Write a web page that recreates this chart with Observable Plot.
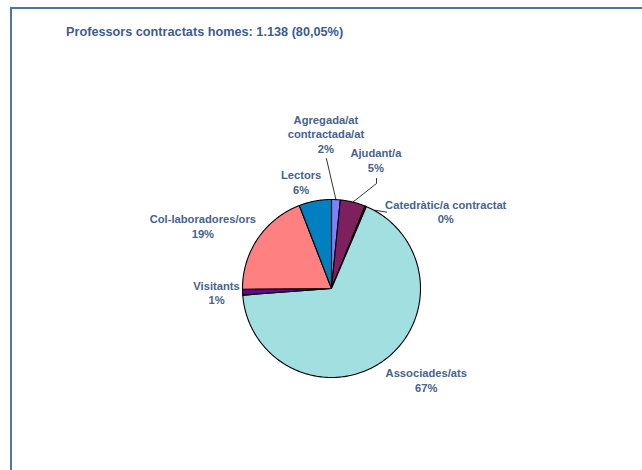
<!DOCTYPE html>
<html><head><meta charset="utf-8">
<script src="https://cdn.jsdelivr.net/npm/d3@7"></script>
<script src="https://cdn.jsdelivr.net/npm/@observablehq/plot@0.6"></script>
<style>
html,body{margin:0;padding:0;background:#fff;}
#wrap{position:relative;width:642px;height:470px;overflow:hidden;font-family:"Liberation Sans",Arial,sans-serif;}
#frame{position:absolute;left:10px;top:7px;width:700px;height:500px;border-left:2px solid #4F73A6;border-top:2px solid #4F73A6;}
#title{position:absolute;left:66px;top:25px;font-weight:bold;font-size:12.7px;color:#3D5D8D;white-space:nowrap;}
#chart{position:absolute;left:0;top:0;}
</style></head><body>
<div id="wrap"><div id="frame"></div><div id="title"></div><div id="chart"></div></div>
<script>
// ---- data ----
const titleText = "Professors contractats homes: 1.138 (80,05%)";
const categories = ["Agregada/at\ncontractada/at", "Ajudant/a", "Catedràtic/a contractat", "Associades/ats", "Visitants", "Col-laboradores/ors", "Lectors"];
const counts = [18, 52, 3, 767, 12, 219, 67];
const colors = ["#8080FF", "#7E1F5E", "#222222", "#A1DFE0", "#5C0A8E", "#FF8080", "#0080C0"];

// ---- layout (pixel offsets from each slice's mid-angle edge point) ----
const R = 89;
const labelOffsets = [[-10, -66], [23, -42], [80, 5], [43, 19], [-26, 0], [-55, -12.5], [-14, -19]];
const leaderOffsets = [
  [[0, 0], [-9.5, -41]],
  [[0, 0], [23.6, -18.6], [23.6, -23.6]],
  [[9, 3.8], [21, 5.8]],
  null, null, null, null
];

document.getElementById("title").textContent = titleText;

const total = d3.sum(counts);
const deg = Math.PI / 180;
let acc = 0;
const slices = categories.map((c, i) => {
  const a0 = acc / total * 2 * Math.PI;
  acc += counts[i];
  const a1 = acc / total * 2 * Math.PI;
  return {cat: c, i, a0, a1, mid: (a0 + a1) / 2, pct: Math.round(100 * counts[i] / total) + "%"};
});

const slicePts = [];
for (const s of slices) {
  slicePts.push({cat: s.cat, x: 0, y: 0});
  const n = Math.max(2, Math.ceil((s.a1 - s.a0) / deg));
  for (let k = 0; k <= n; k++) {
    const a = s.a0 + (s.a1 - s.a0) * k / n;
    slicePts.push({cat: s.cat, x: Math.sin(a), y: Math.cos(a)});
  }
  slicePts.push({cat: s.cat, x: 0, y: 0});
}

const labels = slices.map(s => {
  const [dx, dy] = labelOffsets[s.i];
  return {text: s.cat + "\n" + s.pct, x: Math.sin(s.mid) + dx / R, y: Math.cos(s.mid) - dy / R};
});

const leaderPts = [];
slices.forEach(s => {
  const L = leaderOffsets[s.i];
  if (!L) return;
  L.forEach(([dx, dy]) => leaderPts.push({k: s.i, x: Math.sin(s.mid) + dx / R, y: Math.cos(s.mid) - dy / R}));
});

const cx = 331, cy = 288;
const chart = Plot.plot({
  width: 642, height: 470,
  margin: 0,
  x: {domain: [-1, 1], range: [cx - R, cx + R], axis: null},
  y: {domain: [-1, 1], range: [cy + R, cy - R], axis: null},
  color: {domain: categories, range: colors},
  style: {background: "transparent"},
  marks: [
    Plot.line(slicePts, {x: "x", y: "y", z: "cat", fill: "cat", stroke: "#000", strokeWidth: 1.1, strokeLinejoin: "round", curve: "linear"}),
    Plot.line(leaderPts, {x: "x", y: "y", z: "k", stroke: "#000", strokeWidth: 0.8}),
    Plot.text(labels, {x: "x", y: "y", text: "text", fontSize: 11.2, fontWeight: "bold", fill: "#46638E", lineHeight: 1.32, textAnchor: "middle", fontFamily: "Liberation Sans, Arial, sans-serif"})
  ]
});
document.getElementById("chart").appendChild(chart);
</script>
</body></html>
